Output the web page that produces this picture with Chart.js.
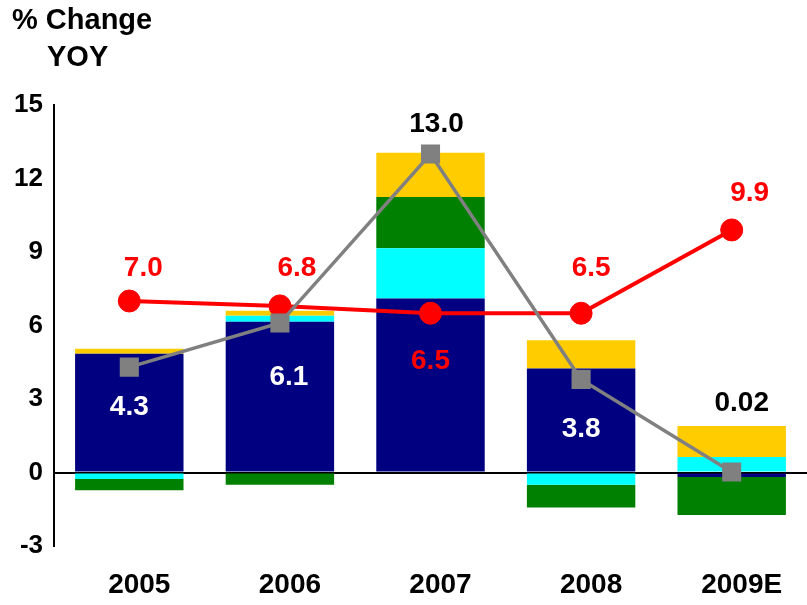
<!DOCTYPE html>
<html>
<head>
<meta charset="utf-8">
<script src="https://cdn.jsdelivr.net/npm/chart.js@4/dist/chart.umd.min.js"></script>
<style>
  html, body { margin: 0; padding: 0; background: #fff; overflow: hidden; }
  #chart { display: block; }
</style>
</head>
<body>
<canvas id="chart" width="807" height="605"></canvas>
<script>
const YEARS = ['2005', '2006', '2007', '2008', '2009E']

// stacked components (% change YOY)
const NAVY_VALUES = [4.85, 6.15, 7.1, 4.25, -0.18]
const CYAN_VALUES = [-0.27, 0.25, 2.05, -0.5, 0.63]
const GREEN_VALUES = [-0.45, -0.5, 2.1, -0.93, -1.55]
const YELLOW_VALUES = [0.2, 0.2, 1.8, 1.15, 1.27]

// lines
const TOTAL_VALUES = [4.3, 6.1, 13.0, 3.8, 0.02]
const GROWTH_VALUES = [7.0, 6.8, 6.5, 6.5, 9.9]

const Y_TICKS = [-3, 0, 3, 6, 9, 12, 15]

const FONT = '"Liberation Sans", Arial, Helvetica, sans-serif'

function formatValue(v) {
  return Math.abs(v) < 0.1 ? v.toFixed(2) : v.toFixed(1)
}

// label layout relative to each point: [dx, dy]
const GROWTH_OFFSETS = [[14, -33], [17, -38], [0, 48], [10, -45], [18, -37]]
const TOTAL_OFFSETS = [[0, 40], [9, 54], [6, -30], [0, 50], [10, -69]]
const TOTAL_COLORS = ['#ffffff', '#ffffff', '#000000', '#ffffff', '#000000']

const valueLabels = {
  id: 'valueLabels',
  afterDatasetsDraw(chart) {
    const { ctx } = chart
    ctx.save()
    ctx.font = `bold 28px ${FONT}`
    ctx.textAlign = 'center'
    ctx.textBaseline = 'middle'
    chart.data.datasets.forEach((ds, di) => {
      if (ds.labelKind !== 'growth' && ds.labelKind !== 'total') return
      const meta = chart.getDatasetMeta(di)
      meta.data.forEach((pt, i) => {
        const isGrowth = ds.labelKind === 'growth'
        const off = isGrowth ? GROWTH_OFFSETS[i] : TOTAL_OFFSETS[i]
        ctx.fillStyle = isGrowth ? '#ff0000' : TOTAL_COLORS[i]
        ctx.fillText(formatValue(ds.data[i]), pt.x + off[0], pt.y + off[1])
      })
    })
    ctx.restore()
  }
}

const titleText = {
  id: 'titleText',
  afterDraw(chart) {
    const { ctx } = chart
    ctx.save()
    ctx.font = `bold 29px ${FONT}`
    ctx.fillStyle = '#000'
    ctx.textAlign = 'left'
    ctx.textBaseline = 'middle'
    ctx.fillText('% Change', 12, 21)
    ctx.fillText('YOY', 47, 58)
    ctx.restore()
  }
}

const barDefaults = {
  type: 'bar',
  order: 1,
  stack: 'parts',
  barPercentage: 0.72,
  categoryPercentage: 1,
  borderWidth: 0
}

new Chart(document.getElementById('chart'), {
  data: {
    labels: YEARS,
    datasets: [
      { ...barDefaults, label: 'Navy', data: NAVY_VALUES, backgroundColor: '#000080' },
      { ...barDefaults, label: 'Cyan', data: CYAN_VALUES, backgroundColor: '#00ffff' },
      { ...barDefaults, label: 'Green', data: GREEN_VALUES, backgroundColor: '#008000' },
      { ...barDefaults, label: 'Yellow', data: YELLOW_VALUES, backgroundColor: '#ffcc00' },
      {
        type: 'line',
        label: 'Growth',
        labelKind: 'growth',
        stack: 'growth',
        order: 0,
        data: GROWTH_VALUES,
        borderColor: '#ff0000',
        backgroundColor: '#ff0000',
        borderWidth: 4,
        pointRadius: 11,
        pointBorderWidth: 1,
        pointStyle: 'circle',
        tension: 0,
        fill: false
      },
      {
        type: 'line',
        label: 'Total',
        labelKind: 'total',
        stack: 'total',
        order: -1,
        data: TOTAL_VALUES,
        borderColor: '#808080',
        backgroundColor: '#808080',
        borderWidth: 3.5,
        pointRadius: 13.5,
        pointBorderWidth: 0,
        pointStyle: 'rect',
        tension: 0,
        fill: false
      }
    ]
  },
  options: {
    responsive: false,
    animation: false,
    devicePixelRatio: 1,
    layout: { autoPadding: false, padding: { top: 105, left: 14, right: -7, bottom: 3 } },
    plugins: {
      legend: { display: false },
      tooltip: { enabled: false },
      title: { display: false }
    },
    scales: {
      x: {
        stacked: true,
        offset: true,
        grid: { display: false, drawTicks: false },
        border: { display: false },
        ticks: {
          color: '#000',
          font: { family: FONT, size: 28, weight: 'bold' },
          padding: 22,
          labelOffset: 10,
          maxRotation: 0
        },
        afterFit(scale) {
          scale.height = 56
          scale.paddingLeft = 0
          scale.paddingRight = 0
        }
      },
      y: {
        stacked: true,
        min: -3,
        max: 15,
        afterBuildTicks(scale) {
          scale.ticks = Y_TICKS.map(v => ({ value: v }))
        },
        afterFit(scale) {
          scale.width = 40
          scale.paddingTop = 0
          scale.paddingBottom = 0
        },
        border: { display: true, color: '#000', width: 2 },
        grid: {
          drawTicks: false,
          color: ctx => (ctx.tick && ctx.tick.value === 0 ? '#000' : 'rgba(0,0,0,0)'),
          lineWidth: 2
        },
        ticks: {
          color: '#000',
          font: { family: FONT, size: 26, weight: 'bold' },
          padding: 11
        }
      }
    }
  },
  plugins: [valueLabels, titleText]
})
</script>
</body>
</html>
